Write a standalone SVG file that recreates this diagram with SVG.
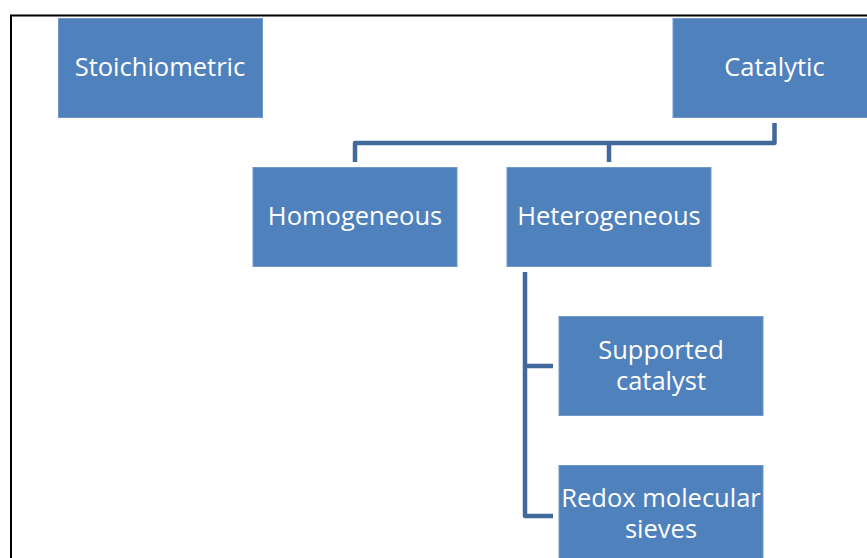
<svg xmlns="http://www.w3.org/2000/svg" width="867" height="558" viewBox="0 0 867 558">
<style>
.box{fill:#4F81BD;stroke:#6F97CA;stroke-width:1}
.t{fill:#FFFFFF;font-family:"Open Sans","Liberation Sans",sans-serif;font-size:25.5px;text-anchor:middle}
.c{fill:none;stroke:#41699C;stroke-width:4.5;stroke-linejoin:round}
</style>
<rect x="0" y="0" width="867" height="558" fill="#FFFFFF"/>
<path d="M11 558 V15.5 H867" fill="none" stroke="#000000" stroke-width="2"/>
<g id="connectors">
<path class="c" d="M774.5 123 V143 H355 V162"/>
<path class="c" d="M609 143 V162"/>
<path class="c" d="M525 272 V516 H553"/>
<path class="c" d="M525 366 H553"/>
</g>
<g id="stoichiometric"><rect class="box" x="58.5" y="18.5" width="204" height="99"/><text class="t" x="160" y="76">Stoichiometric</text></g>
<g id="catalytic"><rect class="box" x="673" y="18.5" width="204" height="99"/><text class="t" x="774.5" y="76">Catalytic</text></g>
<g id="homogeneous"><rect class="box" x="253" y="167.5" width="204" height="99"/><text class="t" x="355" y="225">Homogeneous</text></g>
<g id="heterogeneous"><rect class="box" x="507" y="167.5" width="204" height="99"/><text class="t" x="609" y="225">Heterogeneous</text></g>
<g id="supported"><rect class="box" x="559" y="316.5" width="204" height="99"/><text class="t" x="661" y="358.5">Supported</text><text class="t" x="661" y="389.5">catalyst</text></g>
<g id="redox"><rect class="box" x="559" y="465.5" width="204" height="99"/><text class="t" x="661" y="506.5">Redox molecular</text><text class="t" x="661" y="537.5">sieves</text></g>
</svg>
